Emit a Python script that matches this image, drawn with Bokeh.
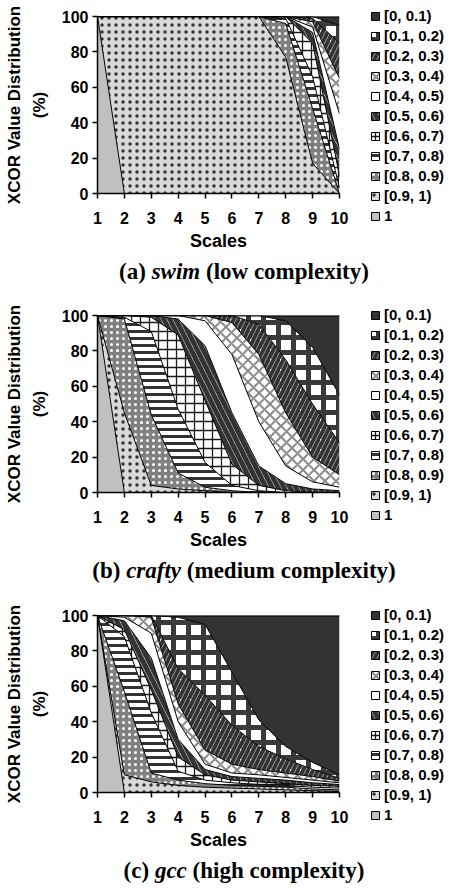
from bokeh.plotting import figure
from bokeh.models import ColumnDataSource, Legend, LegendItem, Range1d, Div
from bokeh.layouts import column
from bokeh.transform import stack
from bokeh.embed import file_html
from bokeh.resources import INLINE

# ---------------- data ----------------
scales = [1, 2, 3, 4, 5, 6, 7, 8, 9, 10]
y_ticks = [0, 20, 40, 60, 80, 100]

# legend order (top of stack first)
categories = ["[0, 0.1)", "[0.1, 0.2)", "[0.2, 0.3)", "[0.3, 0.4)", "[0.4, 0.5)",
              "[0.5, 0.6)", "[0.6, 0.7)", "[0.7, 0.8)", "[0.8, 0.9)", "[0.9, 1)", "1"]

# percentage of each XCOR bin per scale
swim = {
    "[0, 0.1)":   [0, 0, 0, 0, 0, 0, 0, 0, 0, 5],
    "[0.1, 0.2)": [0, 0, 0, 0, 0, 0, 0, 0, 1, 10],
    "[0.2, 0.3)": [0, 0, 0, 0, 0, 0, 0, 0, 2, 20],
    "[0.3, 0.4)": [0, 0, 0, 0, 0, 0, 0, 0, 3, 20],
    "[0.4, 0.5)": [0, 0, 0, 0, 0, 0, 0, 0, 3, 20],
    "[0.5, 0.6)": [0, 0, 0, 0, 0, 0, 0, 0, 6, 15],
    "[0.6, 0.7)": [0, 0, 0, 0, 0, 0, 0, 1, 19, 7],
    "[0.7, 0.8)": [0, 0, 0, 0, 0, 0, 0, 3, 18, 3],
    "[0.8, 0.9)": [0, 0, 0, 0, 0, 0, 0, 19, 31, 0],
    "[0.9, 1)":   [0, 100, 100, 100, 100, 100, 100, 77, 17, 0],
    "1":          [100, 0, 0, 0, 0, 0, 0, 0, 0, 0],
}

crafty = {
    "[0, 0.1)":   [0, 0, 0, 0, 0, 0, 0, 3, 18, 45],
    "[0.1, 0.2)": [0, 0, 0, 0, 0, 0, 5, 22, 32, 27],
    "[0.2, 0.3)": [0, 0, 0, 0, 0, 4, 17, 30, 30, 18],
    "[0.3, 0.4)": [0, 0, 0, 0, 3, 18, 38, 30, 14, 7],
    "[0.4, 0.5)": [0, 0, 0, 2, 14, 33, 25, 10, 4, 2],
    "[0.5, 0.6)": [0, 0, 1, 9, 31, 29, 11, 4, 2, 1],
    "[0.6, 0.7)": [0, 1, 8, 42, 35, 12, 3, 1, 0, 0],
    "[0.7, 0.8)": [0, 1, 47, 36, 14, 3, 1, 0, 0, 0],
    "[0.8, 0.9)": [0, 53, 40, 9, 2, 1, 0, 0, 0, 0],
    "[0.9, 1)":   [0, 45, 4, 2, 1, 0, 0, 0, 0, 0],
    "1":          [100, 0, 0, 0, 0, 0, 0, 0, 0, 0],
}

gcc = {
    "[0, 0.1)":   [0, 0, 0, 1, 5, 32, 59, 74, 83, 90],
    "[0.1, 0.2)": [0, 0, 0, 29, 40, 30, 15, 7, 4, 2],
    "[0.2, 0.3)": [0, 0, 1, 20, 31, 22, 13, 8, 4, 1.5],
    "[0.3, 0.4)": [0, 1, 9, 10, 8, 5, 3, 2.5, 2, 1],
    "[0.4, 0.5)": [0, 2, 14, 10, 3, 2, 2, 1.5, 1.5, 1],
    "[0.5, 0.6)": [0, 5, 18, 10, 3, 2, 2, 2, 1.5, 1],
    "[0.6, 0.7)": [0, 4, 13, 8, 3, 1.5, 1.5, 1, 1, 1],
    "[0.7, 0.8)": [0, 31, 34, 5, 2, 1.5, 1, 1, 1, 1],
    "[0.8, 0.9)": [0, 47, 5, 3, 2, 1.5, 1.5, 1.5, 1, 1],
    "[0.9, 1)":   [0, 10, 6, 4, 3, 2.5, 2, 1.5, 1, 0.5],
    "1":          [100, 0, 0, 0, 0, 0, 0, 0, 0, 0],
}

panels = [
    ("(a)", "swim", "(low complexity)", swim, 46),
    ("(b)", "crafty", "(medium complexity)", crafty, 47),
    ("(c)", "gcc", "(high complexity)", gcc, 39),
]

# ---------------- styles ----------------
styles = {
    "[0, 0.1)":   dict(fill_color="#333333"),
    "[0.1, 0.2)": dict(fill_color="white", hatch_pattern="cross", hatch_color="#3a3a3a",
                       hatch_weight=5, hatch_scale=15),
    "[0.2, 0.3)": dict(fill_color="white", hatch_pattern="right_diagonal_line", hatch_color="#333333",
                       hatch_weight=4, hatch_scale=10),
    "[0.3, 0.4)": dict(fill_color="white", hatch_pattern="diagonal_cross", hatch_color="#8c8c8c",
                       hatch_weight=2, hatch_scale=11),
    "[0.4, 0.5)": dict(fill_color="white"),
    "[0.5, 0.6)": dict(fill_color="white", hatch_pattern="left_diagonal_line", hatch_color="#333333",
                       hatch_weight=5, hatch_scale=12),
    "[0.6, 0.7)": dict(fill_color="white", hatch_pattern="cross", hatch_color="#1a1a1a",
                       hatch_weight=1.3, hatch_scale=9),
    "[0.7, 0.8)": dict(fill_color="white", hatch_pattern="horizontal_line", hatch_color="#333333",
                       hatch_weight=3, hatch_scale=7),
    "[0.8, 0.9)": dict(fill_color="#808080", hatch_pattern="dot", hatch_color="white",
                       hatch_weight=0.5, hatch_scale=6),
    "[0.9, 1)":   dict(fill_color="#d9d9d9", hatch_pattern="dot", hatch_color="#333333",
                       hatch_weight=2.5, hatch_scale=7),
    "1":          dict(fill_color="#c0c0c0"),
}

SANS = "Liberation Sans"
W = 466
FW, FH = 242, 177
LEFT, RIGHT, TOP, BOTTOM = 97, 127, 16, 59


def make_plot(data):
    keys = ["c%d" % i for i in range(len(categories))]
    cols = dict(x=scales)
    for k, c in zip(keys, categories):
        cols[k] = data[c]
    src = ColumnDataSource(cols)

    p = figure(frame_width=FW, frame_height=FH, min_border_left=LEFT, min_border_right=RIGHT,
               min_border_top=TOP, min_border_bottom=BOTTOM,
               x_range=Range1d(1, 10), y_range=Range1d(0, 100),
               output_backend="svg", toolbar_location=None, tools="")
    p.outline_line_color = None
    p.xgrid.visible = False
    p.ygrid.visible = False

    order = keys[::-1]  # bottom first
    swatch = {}
    for i, k in enumerate(order):
        cat = categories[keys.index(k)]
        p.varea(x="x", y1=stack(*order[:i]), y2=stack(*order[:i + 1]),
                source=src, **styles[cat])
        # outlined box used only as the legend swatch of this layer
        swatch[cat] = p.quad(left="x", right="x", bottom=stack(*order[:i]),
                             top=stack(*order[:i + 1]), source=src, visible=False,
                             line_color="black", line_width=1, **styles[cat])
    for i in range(len(order)):
        p.line(x="x", y=stack(*order[:i + 1]), source=src, line_color="black",
               line_width=2 if i == len(order) - 1 else 1)

    items = [LegendItem(label=cat, renderers=[swatch[cat]]) for cat in categories]
    legend = Legend(items=items, location=(31, -31), orientation="vertical",
                    glyph_width=10, glyph_height=10, label_height=14, label_standoff=4,
                    spacing=3, padding=0, margin=0, border_line_color=None,
                    background_fill_alpha=0, inactive_fill_alpha=0,
                    label_text_font=SANS, label_text_font_style="bold",
                    label_text_font_size="15px", label_text_color="black")
    p.add_layout(legend, "right")

    p.xaxis.ticker = scales
    p.yaxis.ticker = y_ticks
    for ax in (p.xaxis, p.yaxis):
        ax.axis_line_width = 1.5
        ax.axis_line_color = "black"
        ax.major_tick_line_width = 1.5
        ax.major_tick_line_color = "black"
        ax.major_tick_in = 0
        ax.major_tick_out = 5
        ax.minor_tick_line_color = None
        ax.major_label_text_font = SANS
        ax.major_label_text_font_style = "bold"
        ax.major_label_text_font_size = "16px"
        ax.major_label_text_color = "black"
        ax.axis_label_text_font = SANS
        ax.axis_label_text_font_style = "bold"
        ax.axis_label_text_color = "black"
    p.xaxis.major_label_standoff = 13
    p.yaxis.major_label_standoff = 4
    p.xaxis.axis_label = "Scales"
    p.xaxis.axis_label_text_font_size = "18px"
    p.xaxis.axis_label_standoff = 4
    p.yaxis.axis_label = "XCOR Value Distribution\n(%)"
    p.yaxis.axis_label_text_font_size = "17px"
    p.yaxis.axis_label_text_line_height = 1.3
    p.yaxis.axis_label_standoff = 10
    return p


def make_caption(letter, bench, tail, height):
    html = ('<div style="width:%dpx;box-sizing:border-box;padding-left:22px;padding-top:7px;'
            'text-align:center;font-family:\'Liberation Serif\';font-size:23px;'
            'font-weight:bold;line-height:24px;color:black;white-space:nowrap">'
            '%s <i>%s</i> %s</div>') % (W, letter, bench, tail)
    return Div(text=html, width=W, height=height, margin=0)


items = []
for letter, bench, tail, data, cap_h in panels:
    items.append(make_plot(data))
    items.append(make_caption(letter, bench, tail, cap_h))

layout = column(*items, spacing=0)
open("out.html", "w").write(file_html(layout, INLINE))
